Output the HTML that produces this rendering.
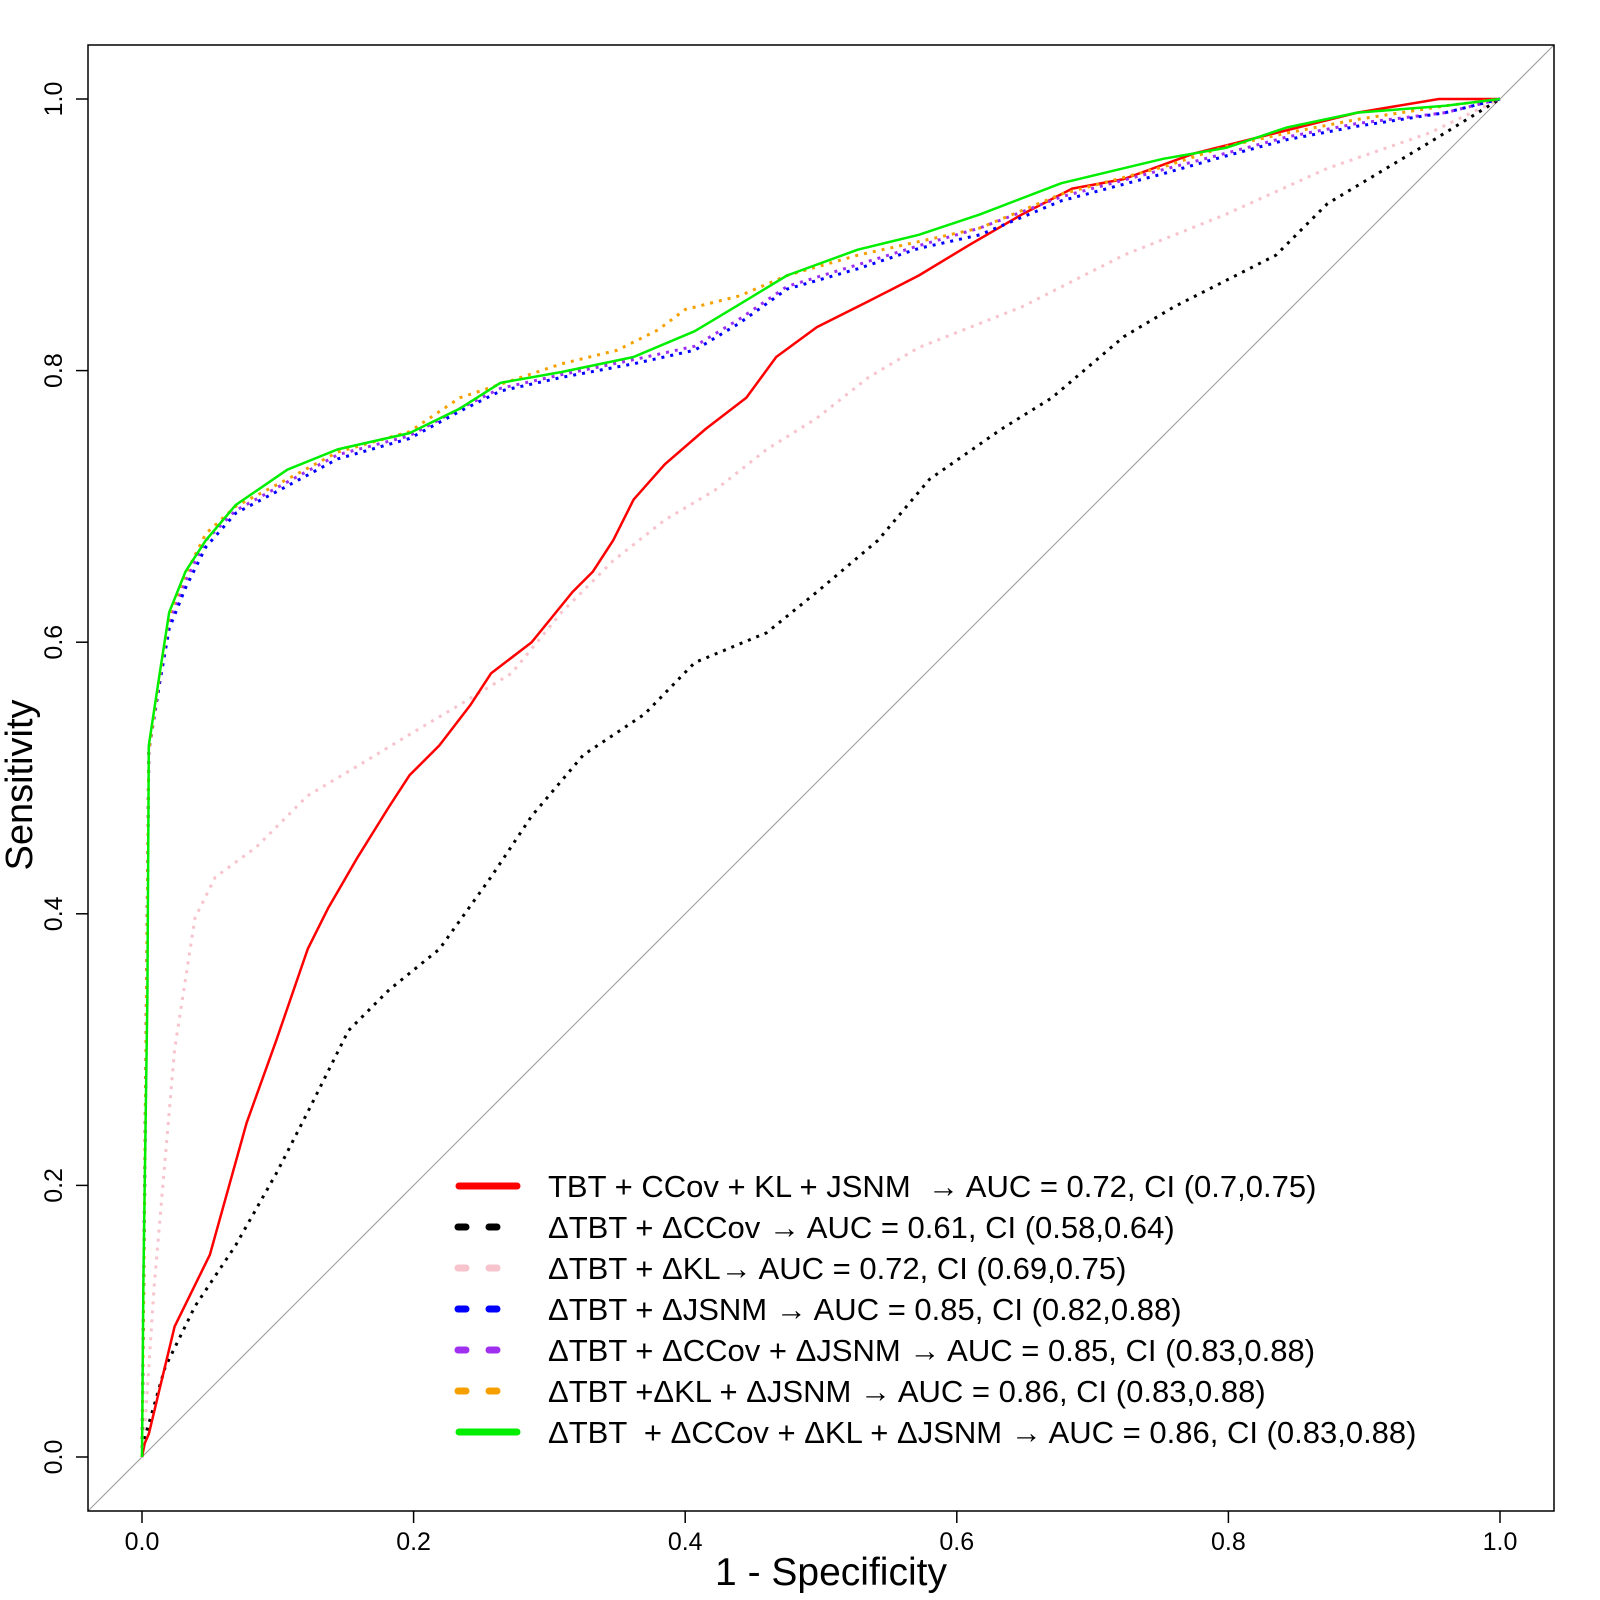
<!DOCTYPE html>
<html><head><meta charset="utf-8"><style>
html,body{margin:0;padding:0;background:#fff}
svg{display:block;font-family:"Liberation Sans",Arial,sans-serif}
</style></head><body>
<svg id="chart" width="1600" height="1600" viewBox="0 0 1600 1600">
<rect x="0" y="0" width="1600" height="1600" fill="#fff"/>
<g id="plot"></g>
<g id="axes"></g>
<g id="legend"></g>
</svg>
<script>
const ticks = [0, 0.2, 0.4, 0.6, 0.8, 1.0];
const tickLabels = ["0.0", "0.2", "0.4", "0.6", "0.8", "1.0"];
const redFpr = [0,0.002,0.005,0.024,0.05,0.077,0.099,0.122,0.137,0.159,0.182,0.197,0.219,0.242,0.257,0.287,0.317,0.332,0.347,0.362,0.385,0.415,0.445,0.467,0.497,0.535,0.572,0.61,0.648,0.685,0.723,0.775,0.835,0.895,0.955,1];
const redTpr = [0,0.01,0.017,0.096,0.149,0.246,0.307,0.374,0.404,0.442,0.479,0.502,0.524,0.554,0.577,0.6,0.637,0.652,0.675,0.705,0.731,0.757,0.78,0.81,0.832,0.851,0.87,0.893,0.915,0.934,0.941,0.96,0.975,0.99,1,1];
const blackFpr = [0,0.002,0.017,0.039,0.069,0.099,0.122,0.152,0.182,0.219,0.257,0.287,0.325,0.37,0.407,0.46,0.497,0.542,0.58,0.633,0.67,0.723,0.76,0.835,0.873,0.948,1];
const blackTpr = [0,0.014,0.066,0.111,0.156,0.209,0.254,0.314,0.344,0.374,0.427,0.472,0.517,0.547,0.585,0.607,0.637,0.675,0.72,0.757,0.78,0.825,0.847,0.885,0.923,0.968,1];
const pinkFpr = [0,0.002,0.009,0.024,0.039,0.054,0.084,0.122,0.159,0.197,0.234,0.272,0.309,0.347,0.385,0.422,0.46,0.497,0.535,0.572,0.648,0.723,0.798,0.873,0.948,1];
const pinkTpr = [0,0.02,0.126,0.3,0.397,0.427,0.449,0.487,0.509,0.532,0.554,0.577,0.622,0.66,0.69,0.712,0.742,0.765,0.795,0.817,0.847,0.885,0.915,0.949,0.975,1];
const greenFpr = [0,0.001,0.002,0.004,0.005,0.013,0.02,0.032,0.047,0.069,0.107,0.144,0.197,0.234,0.264,0.309,0.362,0.407,0.437,0.475,0.527,0.572,0.617,0.677,0.752,0.798,0.843,0.895,0.96,1];
const greenTpr = [0,0.13,0.2,0.34,0.524,0.577,0.622,0.652,0.675,0.701,0.727,0.742,0.754,0.772,0.791,0.799,0.81,0.829,0.847,0.87,0.889,0.9,0.915,0.938,0.956,0.964,0.979,0.99,0.995,1];
const orangeFpr = [0,0.002,0.005,0.013,0.02,0.032,0.047,0.069,0.107,0.144,0.197,0.234,0.264,0.309,0.35,0.38,0.4,0.44,0.475,0.527,0.572,0.617,0.677,0.752,0.798,0.843,0.895,0.96,1];
const orangeTpr = [0,0.2,0.52,0.575,0.62,0.65,0.68,0.7,0.72,0.74,0.755,0.78,0.79,0.805,0.815,0.83,0.845,0.855,0.87,0.885,0.895,0.905,0.93,0.95,0.965,0.975,0.985,0.995,1];
const blueFpr = [0,0.002,0.005,0.013,0.02,0.032,0.047,0.069,0.107,0.144,0.197,0.234,0.264,0.309,0.362,0.407,0.44,0.475,0.527,0.572,0.617,0.677,0.752,0.798,0.843,0.895,0.96,1];
const blueTpr = [0,0.2,0.52,0.57,0.61,0.64,0.67,0.695,0.715,0.735,0.75,0.77,0.785,0.795,0.805,0.815,0.835,0.86,0.875,0.89,0.9,0.925,0.945,0.958,0.97,0.98,0.99,1];
const purpleFpr = [0,0.002,0.005,0.013,0.02,0.032,0.047,0.069,0.107,0.144,0.197,0.234,0.264,0.309,0.362,0.407,0.44,0.475,0.527,0.572,0.617,0.677,0.752,0.798,0.843,0.895,0.96,1];
const purpleTpr = [0,0.2,0.52,0.575,0.615,0.645,0.675,0.697,0.718,0.738,0.752,0.772,0.787,0.797,0.808,0.818,0.838,0.862,0.878,0.892,0.905,0.928,0.948,0.96,0.972,0.982,0.99,1];
const legendLabels = [
 "TBT + CCov + KL + JSNM  \u2192 AUC = 0.72, CI (0.7,0.75)",
 "\u0394TBT + \u0394CCov \u2192 AUC = 0.61, CI (0.58,0.64)",
 "\u0394TBT + \u0394KL\u2192 AUC = 0.72, CI (0.69,0.75)",
 "\u0394TBT + \u0394JSNM \u2192 AUC = 0.85, CI (0.82,0.88)",
 "\u0394TBT + \u0394CCov + \u0394JSNM \u2192 AUC = 0.85, CI (0.83,0.88)",
 "\u0394TBT +\u0394KL + \u0394JSNM \u2192 AUC = 0.86, CI (0.83,0.88)",
 "\u0394TBT  + \u0394CCov + \u0394KL + \u0394JSNM \u2192 AUC = 0.86, CI (0.83,0.88)"
];
const NS="http://www.w3.org/2000/svg";
const X0=142,X1=1500,Y0=1457,Y1=99;
function sx(v){return X0+(X1-X0)*v;}
function sy(v){return Y0-(Y0-Y1)*v;}
function mk(t,attrs,parent){const e=document.createElementNS(NS,t);for(const k in attrs)e.setAttribute(k,attrs[k]);parent.appendChild(e);return e;}
const plot=document.getElementById('plot'),axes=document.getElementById('axes'),legend=document.getElementById('legend');
let d=mk('line',{x1:88,y1:1511,x2:1554,y2:45,stroke:'#999','stroke-width':1},plot);


const series=[
 {name:'pink-curve',fx:pinkFpr,ty:pinkTpr,c:'#f7c3cd',dash:'3,6',w:3},
 {name:'black-curve',fx:blackFpr,ty:blackTpr,c:'#000',dash:'3,6',w:3},
 {name:'red-curve',fx:redFpr,ty:redTpr,c:'#f00',dash:'',w:2.5},
 {name:'purple-curve',fx:purpleFpr,ty:purpleTpr,c:'#a030f0',dash:'3,6',w:3},
 {name:'blue-curve',fx:blueFpr,ty:blueTpr,c:'#0000ff',dash:'3,6',w:3},
 {name:'orange-curve',fx:orangeFpr,ty:orangeTpr,c:'#f5a000',dash:'3,6',w:3},
 {name:'green-curve',fx:greenFpr,ty:greenTpr,c:'#00ee00',dash:'',w:2.5}
];
series.forEach(s=>{
 const pts=s.fx.map((v,i)=>sx(v).toFixed(1)+','+sy(s.ty[i]).toFixed(1)).join(' ');
 const p=mk('polyline',{points:pts,fill:'none',stroke:s.c,'stroke-width':s.w,'stroke-dasharray':s.dash,'stroke-linejoin':'round'},plot);
 
 
});
let box=mk('rect',{x:88,y:45,width:1466,height:1466,fill:'none',stroke:'#000','stroke-width':1.5},axes);


ticks.forEach((t,i)=>{
 let a=mk('line',{x1:sx(t),y1:1511,x2:sx(t),y2:1523,stroke:'#000','stroke-width':1.5},axes);
 
 
 let tx=mk('text',{x:sx(t),y:1550,'font-size':25,'text-anchor':'middle',fill:'#000'},axes);
 tx.textContent=tickLabels[i];
 
 
 let b=mk('line',{x1:76,y1:sy(t),x2:88,y2:sy(t),stroke:'#000','stroke-width':1.5},axes);
 
 
 let ty=mk('text',{x:62,y:sy(t),'font-size':25,'text-anchor':'middle',fill:'#000',transform:'rotate(-90 62 '+sy(t)+')'},axes);
 ty.textContent=tickLabels[i];
 
 
});
let xt=mk('text',{x:831,y:1585,'font-size':39,'text-anchor':'middle',fill:'#000'},axes);
xt.textContent='1 - Specificity';


let yt=mk('text',{x:32,y:785,'font-size':38,'text-anchor':'middle',fill:'#000',transform:'rotate(-90 32 785)'},axes);
yt.textContent='Sensitivity';


const legColors=['#f00','#000','#f7c3cd','#0000ff','#a030f0','#f5a000','#00ee00'];
const legSolid=[true,false,false,false,false,false,true];
legendLabels.forEach((lab,i)=>{
 const y=1186+41*i;
 let ln;
 if(legSolid[i]) ln=mk('line',{x1:459,y1:y,x2:517,y2:y,stroke:legColors[i],'stroke-width':7,'stroke-linecap':'round'},legend);
 else ln=mk('line',{x1:458,y1:y,x2:500,y2:y,stroke:legColors[i],'stroke-width':7,'stroke-linecap':'round','stroke-dasharray':'8,23'},legend);
 
 
 let t=mk('text',{x:548,y:y+11,'font-size':31,fill:'#000','xml:space':'preserve','textLength':0},legend);
 t.removeAttribute('textLength');
 t.setAttribute('style','white-space:pre');
 t.textContent=lab;
 
 
});
</script>
</body></html>
